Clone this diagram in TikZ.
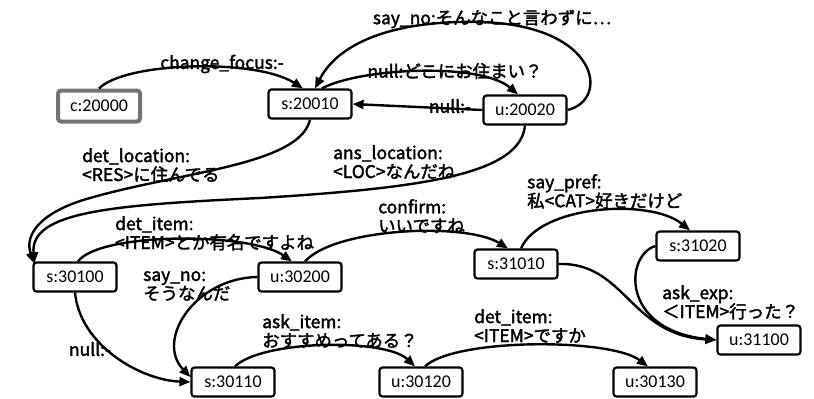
\documentclass[tikz,border=0pt]{standalone}
\usepackage{fontspec}
\setmainfont{Carlito}
\newfontfamily\labfont{Noto Sans CJK JP}[FakeBold=2]
\usetikzlibrary{arrows.meta}

\begin{document}
\begin{tikzpicture}[x=1bp,y=-1bp,
  state/.style={draw=black, line width=2.2bp, rounded corners=3bp, fill=white,
    minimum width=83bp, minimum height=29bp, inner sep=1bp,
    font=\fontsize{18}{20}\selectfont},
  startstate/.style={state, draw=black!55, line width=4bp,
    minimum width=82bp, minimum height=31bp},
  trans/.style={line width=2.4bp, -{Triangle[length=11bp,width=9bp]}},
  lab/.style={inner sep=0pt, align=left, anchor=north west,
    font=\labfont\fontsize{17.5}{19}\selectfont},
]
\useasboundingbox (0,0) rectangle (814,398);

% states
\node[startstate] (c20000) at (99,106) {c:20000};
\node[state] (s20010) at (310,104) {s:20010};
\node[state] (u20020) at (525,110) {u:20020};
\node[state] (s30100) at (75,277)  {s:30100};
\node[state] (u30200) at (300,277) {u:30200};
\node[state] (s31010) at (516,264) {s:31010};
\node[state] (s31020) at (698,246) {s:31020};
\node[state] (u31100) at (759,340) {u:31100};
\node[state] (s30110) at (233,382) {s:30110};
\node[state] (u30120) at (421,382) {u:30120};
\node[state] (u30130) at (655,382) {u:30130};

% transitions
\draw[trans] (c20000.north) .. controls (125,62) and (255,58) .. ([xshift=-7bp]s20010.north);
\draw[trans] (u20020.east) .. controls (610,100) and (600,25) .. (480,22)
  .. controls (400,20) and (340,40) .. ([xshift=5bp]s20010.north);
\draw[trans] ([xshift=12bp]s20010.north) .. controls (360,68) and (480,62) .. ([xshift=-7bp]u20020.north);
\draw[trans] (u20020.west) -- (s20010.east);
\draw[trans] (s20010.south) .. controls (300,165) and (180,172) .. (90,198)
  .. controls (40,212) and (24,235) .. ([xshift=2bp,yshift=-2bp]s30100.north west);
\draw[trans] (u20020.south) .. controls (520,175) and (420,188) .. (260,198)
  .. controls (110,205) and (30,212) .. ([xshift=2bp,yshift=-2bp]s30100.north west);
\draw[trans] ([xshift=3bp]s30100.north) .. controls (100,232) and (250,232) .. ([xshift=-8bp]u30200.north);
\draw[trans] ([xshift=5bp]u30200.north) .. controls (335,228) and (465,222) .. ([xshift=-8bp]s31010.north);
\draw[trans] ([xshift=5bp]s31010.north) .. controls (540,205) and (650,198) .. ([xshift=-8bp]s31020.north);
\draw[trans] (s31010.east) .. controls (625,262) and (630,335) .. (u31100.west);
\draw[trans] (s31020.west) .. controls (625,255) and (620,330) .. (u31100.west);
\draw[trans] (s30100.south) .. controls (80,345) and (140,380) .. (s30110.west);
\draw[trans] (u30200.west) .. controls (195,278) and (155,340) .. ([yshift=5bp]s30110.west);
\draw[trans] ([xshift=2bp]s30110.north) .. controls (262,340) and (385,338) .. ([xshift=-6bp]u30120.north);
\draw[trans] ([xshift=4bp]u30120.north) .. controls (455,338) and (610,338) .. ([xshift=-7bp]u30130.north);

% transition labels
\node[lab, anchor=center] (l1) at (222,64) {change\_focus:-};
\node[lab, anchor=center] (l2) at (492,19) {say\_no:そんなこと言わずに…};
\node[lab, anchor=center] (l3) at (455,71) {null:どこにお住まい？};
\node[lab, anchor=center] (l4) at (450,106) {null:-};
\node[lab] (l5) at (82,148) {det\_location:\\<RES>に住んでる};
\node[lab] (l6) at (333,145) {ans\_location:\\<LOC>なんだね};
\node[lab] (l7) at (115,216) {det\_item:\\<ITEM>とか有名ですよね};
\node[lab] (l8) at (378,199) {confirm:\\いいですね};
\node[lab] (l9) at (527,174) {say\_pref:\\私<CAT>好きだけど};
\node[lab] (l10) at (143,271) {say\_no:\\そうなんだ};
\node[lab] (l11) at (662,285) {ask\_exp:\\＜ITEM>行った？};
\node[lab] (l12) at (262,314) {ask\_item:\\おすすめってある？};
\node[lab] (l13) at (474,309) {det\_item:\\<ITEM>ですか};
\node[lab, anchor=center] (l14) at (90,349) {null:-};
\end{tikzpicture}
\end{document}
